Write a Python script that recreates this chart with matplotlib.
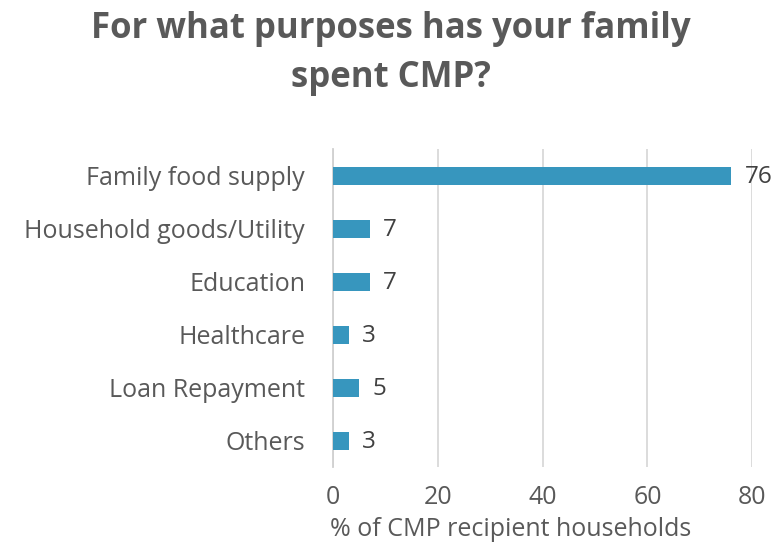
import matplotlib.pyplot as plt

purposes = [
    "Family food supply",
    "Household goods/Utility",
    "Education",
    "Healthcare",
    "Loan Repayment",
    "Others",
]
shares = [76, 7, 7, 3, 5, 3]
x_ticks = [0, 20, 40, 60, 80]

plt.rcParams["font.family"] = ["Open Sans", "DejaVu Sans"]

fig = plt.figure(figsize=(7.74, 5.42), dpi=100)
ax = fig.add_axes([0.430, 0.138, 0.542, 0.587])

ypos = list(range(len(purposes)))
ax.barh(ypos, shares, height=0.34, color="#3796BE", zorder=3)
for y, v in zip(ypos, shares):
    ax.text(v + 2.6, y + 0.02, f"{v}", va="center", ha="left",
            fontsize=17.5, color="#404040")

ax.set_xlim(0, 80)
ax.set_ylim(len(purposes) - 0.5, -0.5)
ax.set_yticks(ypos)
ax.set_yticklabels(purposes, fontsize=18, color="#595959")
ax.set_xticks(x_ticks)
ax.set_xticklabels([str(t) for t in x_ticks], fontsize=18, color="#595959")
ax.tick_params(axis="both", length=0)
ax.tick_params(axis="x", pad=13)
ax.tick_params(axis="y", pad=20)

ax.grid(axis="x", color="#d9d9d9", linewidth=1.3, zorder=0)
for side in ["top", "right", "bottom"]:
    ax.spines[side].set_visible(False)
ax.spines["left"].set_color("#d0d0d0")
ax.spines["left"].set_linewidth(1.3)

ax.set_xlabel("% of CMP recipient households", fontsize=18,
              color="#595959", labelpad=-4)
ax.xaxis.set_label_coords(0.425, -0.155)

fig.text(0.505, 0.979, "For what purposes has your family\nspent CMP?",
         ha="center", va="top", fontsize=25, fontweight="bold",
         color="#595959", linespacing=1.45)

fig.savefig("out.png", dpi=100)
